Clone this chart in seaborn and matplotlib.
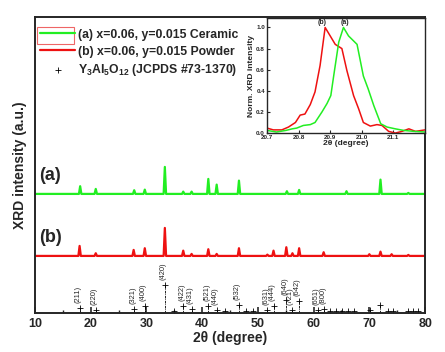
import numpy as np
import pandas as pd
import matplotlib
matplotlib.use('Agg')
import matplotlib.pyplot as plt
from matplotlib.patches import Rectangle
import seaborn as sns

sns.set_style('ticks')
plt.rcParams['font.family'] = ['Liberation Sans', 'DejaVu Sans']
plt.rcParams['font.weight'] = 'bold'
plt.rcParams['mathtext.fontset'] = 'custom'
plt.rcParams['mathtext.rm'] = 'Liberation Sans:bold'
plt.rcParams['mathtext.it'] = 'Liberation Sans:bold'

# ceramic (a) peaks: 2theta and height (a.u.)
cer_pos = [18.1, 20.9, 27.8, 29.7, 33.3, 36.6, 38.1, 41.1, 42.6, 46.6, 55.2, 57.4, 65.9, 72.0, 77.0]
cer_h = [7.7, 5.0, 3.7, 4.3, 27.0, 2.3, 2.3, 15.0, 9.3, 13.3, 2.7, 4.0, 2.7, 14.3, 1.0]

# powder (b) peaks
pow_pos = [18.0, 20.9, 27.7, 29.7, 33.3, 36.6, 38.1, 41.1, 42.6, 46.6, 51.7, 52.8, 55.1,
           56.2, 57.4, 61.8, 70.0, 72.0, 74.0, 77.0]
pow_h = [10.0, 2.7, 6.0, 7.7, 28.0, 5.3, 2.0, 6.7, 2.0, 7.7, 1.3, 5.3, 8.7,
         2.7, 7.7, 3.7, 1.7, 4.3, 1.7, 1.0]

# YAG reference lines (JCPDS #73-1370)
ref_pos = [18.1, 20.9, 27.8, 29.7, 33.3, 35.0, 36.6, 38.1, 41.1, 42.6, 44.1, 46.6, 47.9, 49.1,
           51.7, 52.8, 55.1, 56.1, 57.4, 60.8, 61.9, 62.9, 64.1, 65.1, 66.2, 67.2, 70.1,
           72.0, 73.4, 74.3, 76.9, 77.9, 78.8]
ref_h = [5.0, 2.7, 4.0, 6.7, 28.3, 2.3, 7.3, 4.0, 7.3, 3.3, 1.5, 8.3, 1.5, 1.5,
         2.7, 6.7, 13.3, 3.3, 11.7, 2.7, 4.0, 1.5, 1.5, 1.5, 1.5, 1.5, 2.7,
         8.3, 1.5, 2.0, 1.5, 1.5, 1.5]
ref_hkl = {18.1: '(211)', 20.9: '(220)', 27.8: '(321)', 29.7: '(400)', 33.3: '(420)',
           36.6: '(422)', 38.1: '(431)', 41.1: '(521)', 42.6: '(440)', 46.6: '(532)',
           51.7: '(631)', 52.8: '(444)', 55.1: '(640)', 56.1: '(721)', 57.4: '(642)',
           60.8: '(651)', 61.9: '(800)'}

# inset: (220) peak, normalised
ins_b_x = [20.70, 20.72, 20.747, 20.768, 20.79, 20.805, 20.82, 20.837, 20.852, 20.868, 20.884,
           20.90, 20.916, 20.937, 20.953, 20.974, 20.99, 21.005, 21.027, 21.048, 21.064,
           21.085, 21.106, 21.127, 21.149, 21.17, 21.20]
ins_b_y = [0.047, 0.03, 0.03, 0.057, 0.10, 0.17, 0.18, 0.27, 0.39, 0.64, 1.0,
           0.92, 0.84, 0.80, 0.59, 0.355, 0.23, 0.10, 0.066, 0.08, 0.072,
           0.016, 0.0, 0.016, 0.04, 0.016, 0.03]
ins_a_x = [20.70, 20.73, 20.76, 20.78, 20.794, 20.815, 20.837, 20.852, 20.874, 20.89, 20.902,
           20.911, 20.927, 20.942, 20.958, 20.985, 21.005, 21.02, 21.038, 21.06, 21.08,
           21.106, 21.133, 21.165, 21.20]
ins_a_y = [0.025, 0.01, 0.025, 0.04, 0.047, 0.072, 0.08, 0.10, 0.2, 0.28, 0.355,
           0.54, 0.86, 1.0, 0.92, 0.84, 0.54, 0.42, 0.26, 0.088, 0.057,
           0.04, 0.025, 0.016, 0.01]

GREEN = '#22ee22'
RED = '#ee1111'
base_a, base_b = 119, 57
hw = 0.22


def spectrum(pos, h, base):
    xs, ys = [10.0], [base]
    for p, v in zip(pos, h):
        xs += [p - hw, p, p + hw]
        ys += [base, base + v, base]
    xs.append(80.0)
    ys.append(base)
    return pd.DataFrame({'x': xs, 'y': ys})


fig = plt.figure(figsize=(4.45, 3.52), dpi=100)
ax = fig.add_axes([0.0787, 0.111, 0.8765, 0.841])

sns.lineplot(data=spectrum(cer_pos, cer_h, base_a), x='x', y='y', ax=ax, color=GREEN,
             lw=1.6, sort=False, estimator=None, label='(a) x=0.06, y=0.015 Ceramic')
sns.lineplot(data=spectrum(pow_pos, pow_h, base_b), x='x', y='y', ax=ax, color=RED,
             lw=1.6, sort=False, estimator=None, label='(b) x=0.06, y=0.015 Powder')
ax.vlines(ref_pos, 0, ref_h, colors='k', lw=0.6, linestyles=(0, (3, 1, 1, 1)))
sns.scatterplot(x=ref_pos, y=ref_h, ax=ax, marker='+', color='k', s=25, linewidth=0.6,
                label='Y$_3$Al$_5$O$_{12}$ (JCPDS #73-1370)')
for p, h in zip(ref_pos, ref_h):
    if p in ref_hkl:
        ax.text(p - 0.3, h + 5, ref_hkl[p], rotation=90, ha='center', va='bottom',
                fontsize=5.4, fontweight='normal')

ax.text(10.7, base_a + 18, '(a)', fontsize=13, fontweight='bold', va='center')
ax.text(10.7, base_b + 18, '(b)', fontsize=13, fontweight='bold', va='center')

ax.set_xlim(10, 80)
ax.set_ylim(0, 296)
ax.set_yticks([])
ax.set_xticks(range(10, 81, 10))
ax.set_xticks(range(15, 80, 10), minor=True)
ax.tick_params(axis='x', which='major', direction='in', length=4, width=1.2, labelsize=9)
ax.tick_params(axis='x', which='minor', direction='in', length=2.5, width=1.0)
for s in ax.spines.values():
    s.set_linewidth(1.4)
ax.set_xlabel('2θ (degree)', fontsize=10, fontweight='bold', labelpad=1)
ax.set_ylabel('XRD intensity (a.u.)', fontsize=10, fontweight='bold', labelpad=6)

leg = ax.legend(loc='upper left', bbox_to_anchor=(-0.005, 0.985), frameon=False,
                fontsize=8.8, handlelength=2.8, handletextpad=0.3, labelspacing=0.4,
                borderaxespad=0.2)
for t in leg.get_texts():
    t.set_fontweight('bold')
ax.add_patch(Rectangle((0.005, 0.909), 0.095, 0.057, transform=ax.transAxes,
                       fill=False, ec='#ee6666', lw=0.8, clip_on=False))

# inset
ins = fig.add_axes([0.600, 0.622, 0.355, 0.327])
sns.lineplot(x=ins_b_x, y=ins_b_y, ax=ins, color=RED, lw=1.1, sort=False, estimator=None)
sns.lineplot(x=ins_a_x, y=ins_a_y, ax=ins, color=GREEN, lw=1.1, sort=False, estimator=None)
ins.text(20.876, 1.045, '(b)', fontsize=5, fontweight='bold', ha='center', va='center')
ins.text(20.946, 1.045, '(a)', fontsize=5, fontweight='bold', ha='center', va='center')
ins.set_xlim(20.7, 21.2)
ins.set_ylim(0, 1.09)
ins.set_xticks([20.7, 20.8, 20.9, 21.0, 21.1])
ins.set_xticklabels(['20.7', '20.8', '20.9', '21.0', '21.1'])
ins.set_yticks([0.0, 0.2, 0.4, 0.6, 0.8, 1.0])
ins.set_yticklabels(['0.0', '0.2', '0.4', '0.6', '0.8', '1.0'])
ins.tick_params(direction='in', length=2.5, width=0.8, labelsize=4.5, pad=1.5)
for s in ins.spines.values():
    s.set_linewidth(1.0)
ins.set_xlabel('2θ (degree)', fontsize=6, fontweight='bold', labelpad=0)
ins.set_ylabel('Norm. XRD intensity', fontsize=6, fontweight='bold', labelpad=1)

fig.savefig('out.png', dpi=100)
